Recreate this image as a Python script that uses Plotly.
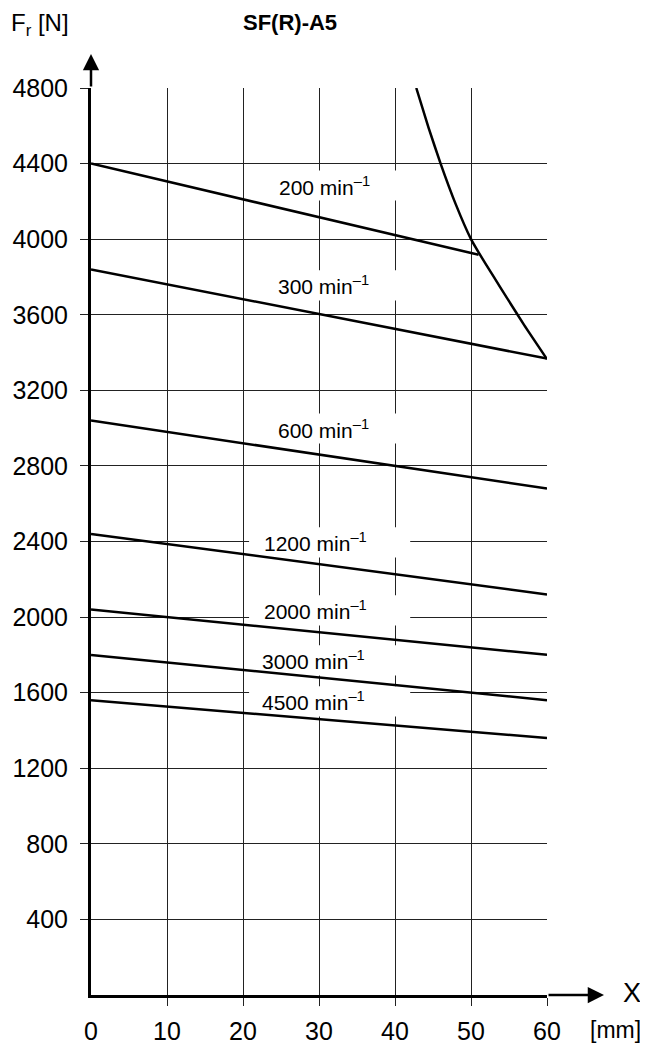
import plotly.graph_objects as go

# ---- data ----
x_ticks = [0, 10, 20, 30, 40, 50, 60]
y_ticks = [400, 800, 1200, 1600, 2000, 2400, 2800, 3200, 3600, 4000, 4400, 4800]
speeds = ["200", "300", "600", "1200", "2000", "3000", "4500"]
x_start = [0, 0, 0, 0, 0, 0, 0]
x_end = [51, 60, 60, 60, 60, 60, 60]
f_start = [4400, 3840, 3040, 2440, 2040, 1800, 1560]
f_end = [3918, 3368, 2680, 2120, 1800, 1560, 1360]
env_x = [42.8, 44.4, 46, 48, 50, 51, 53, 55, 57, 60]
env_f = [4800, 4592, 4400, 4184, 4000, 3930, 3800, 3672, 3545, 3365]
label_x = [30.7, 30.6, 30.6, 29.5, 29.5, 29.3, 29.3]
label_f = [4284, 3755, 2998, 2395, 2035, 1771, 1554]

FONT = "Liberation Sans, Arial, Helvetica, sans-serif"
OFF = 8  # page body margin
W, H = 640, 1038
ML, MT = 91 - OFF, 88 - OFF
PR, PB = 547 - OFF, 995 - OFF
MR, MB = W - PR, H - PB
PW, PH = PR - ML, PB - MT


def px(xp):
    return (xp - OFF - ML) / PW


def py(yp):
    return (PB - (yp - OFF)) / PH


fig = go.Figure()

for xs, xe, fs, fe in zip(x_start, x_end, f_start, f_end):
    fig.add_trace(go.Scatter(x=[xs, xe], y=[fs, fe], mode="lines",
                             line=dict(color="black", width=2.5),
                             hoverinfo="skip", showlegend=False))

fig.add_trace(go.Scatter(x=env_x, y=env_f, mode="lines",
                         line=dict(color="black", width=2.5, shape="spline", smoothing=0.5),
                         hoverinfo="skip", showlegend=False))

# white boxes behind labels (above grid, below curves)
box_x0, box_x1 = 20.8, 42.0
box_half = 80
for lx, lf, sp in zip(label_x, label_f, speeds):
    fig.add_shape(type="rect", xref="x", yref="y", x0=box_x0, x1=box_x1,
                  y0=lf - box_half, y1=lf + box_half, fillcolor="white",
                  line=dict(width=0), layer="between")
    fig.add_annotation(x=lx, y=lf, xref="x", yref="y", text=f"{sp} min<sup>–1</sup>",
                       showarrow=False, xanchor="center", yanchor="middle",
                       font=dict(size=21, color="black", family=FONT))

# axis arrows
fig.add_annotation(x=0, y=py(54), xref="x", yref="paper", text="",
                   showarrow=True, ax=0, ay=88 - 54, axref="pixel", ayref="pixel",
                   arrowhead=2, arrowsize=1.3, arrowwidth=2.5, arrowcolor="black",
                   standoff=0, startstandoff=0)
fig.add_annotation(x=px(604), y=0, xref="paper", yref="y", text="",
                   showarrow=True, ax=-(604 - 547), ay=0, axref="pixel", ayref="pixel",
                   arrowhead=2, arrowsize=1.3, arrowwidth=2.5, arrowcolor="black",
                   standoff=0, startstandoff=0)

# texts
fig.add_annotation(x=px(9), y=py(24), xref="paper", yref="paper",
                   text="F<sub>r</sub> [N]", showarrow=False, xanchor="left", yanchor="middle",
                   font=dict(size=24, color="black", family=FONT))
fig.add_annotation(x=px(290), y=py(22), xref="paper", yref="paper",
                   text="<b>SF(R)-A5</b>", showarrow=False, xanchor="center", yanchor="middle",
                   font=dict(size=22, color="black", family=FONT))
fig.add_annotation(x=px(632), y=py(993), xref="paper", yref="paper",
                   text="X", showarrow=False, xanchor="center", yanchor="middle",
                   font=dict(size=27, color="black", family=FONT))
fig.add_annotation(x=px(615), y=py(1030), xref="paper", yref="paper",
                   text="[mm]", showarrow=False, xanchor="center", yanchor="middle",
                   font=dict(size=23, color="black", family=FONT))

fig.update_layout(
    width=W, height=H, autosize=False,
    margin=dict(l=ML, r=MR, t=MT, b=MB, pad=0, autoexpand=False),
    paper_bgcolor="white", plot_bgcolor="white",
    showlegend=False,
    font=dict(family=FONT, color="black"),
    xaxis=dict(range=[0, 60], tickmode="array", tickvals=x_ticks,
               ticktext=[str(v) for v in x_ticks], ticks="", showgrid=False,
               tickfont=dict(size=25, color="black"), ticklabelstandoff=12,
               showline=True, linecolor="black", linewidth=3, zeroline=False,
               automargin=False,
               minor=dict(tickmode="array", tickvals=x_ticks[1:], ticks="outside",
                          ticklen=8, tickwidth=1, tickcolor="#222",
                          showgrid=True, gridcolor="#222", gridwidth=1),
               fixedrange=True),
    yaxis=dict(range=[0, 4800], tickmode="array", tickvals=y_ticks,
               ticks="outside", ticklen=8, tickwidth=1, tickcolor="#222",
               showgrid=True, gridcolor="#222", gridwidth=1,
               tickfont=dict(size=25, color="black"), ticklabelstandoff=7,
               showline=True, linecolor="black", linewidth=3, zeroline=False,
               automargin=False, fixedrange=True),
)

fig.write_html("out.html")
